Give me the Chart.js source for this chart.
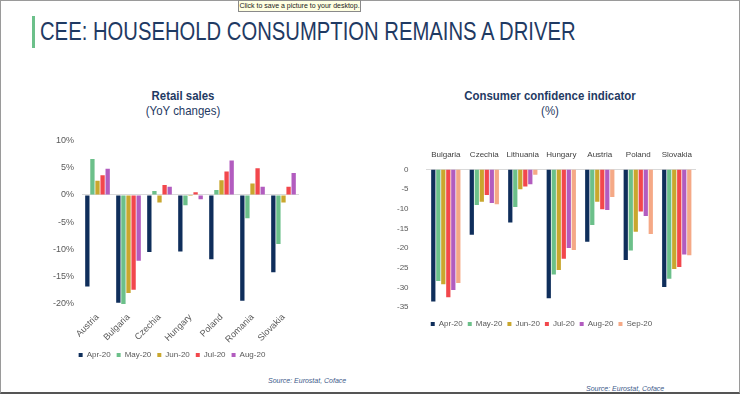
<!DOCTYPE html>
<html>
<head>
<meta charset="utf-8">
<script src="https://cdn.jsdelivr.net/npm/chart.js@4/dist/chart.umd.min.js"></script>
<style>
  body { margin: 0; background: #fff; }
  #page { position: relative; width: 740px; height: 397px; overflow: hidden; font-family: "Liberation Sans", Arial, sans-serif; }
  .frame { position: absolute; left: 0; top: 0; width: 738px; height: 391px; border: 1px solid #9a9a9a; border-bottom: 2px solid #555; }
  .tip { position: absolute; left: 238px; top: 0; width: 121px; height: 10px; background: #ffffe1; border: 1px solid #8a8a8a; font: 7px "Liberation Sans", Arial, sans-serif; line-height: 10px; text-align: center; color: #222; }
  .bar { position: absolute; left: 32px; top: 16px; width: 3px; height: 32px; background: #6cc08a; }
  .title { position: absolute; left: 40px; top: 17px; font-size: 25px; color: #1f3a63; white-space: nowrap; transform: scaleX(0.81); transform-origin: left top; }
  .sub { position: absolute; text-align: center; color: #1f3a63; font-size: 13px; line-height: 15px; transform: scaleX(0.88); }
  .sub b { font-weight: bold; }
  .src { position: absolute; font: italic 7px "Liberation Sans", Arial, sans-serif; color: #3d5a8a; }
  canvas { position: absolute; }
</style>
</head>
<body>
<div id="page">
  <div class="frame"></div>
  <div class="bar"></div>
  <div class="title">CEE: HOUSEHOLD CONSUMPTION REMAINS A DRIVER</div>
  <div class="tip">Click to save a picture to your desktop.</div>
  <div class="sub" style="left:103px; top:88px; width:160px;"><b>Retail sales</b><br>(YoY changes)</div>
  <div class="sub" style="left:450px; top:88px; width:200px;"><b>Consumer confidence indicator</b><br>(%)</div>
  <div class="src" style="left:268px; top:377px;">Source: Eurostat, Coface</div>
  <div class="src" style="left:586px; top:385px;">Source: Eurostat, Coface</div>
  <canvas id="retail" width="262" height="242" style="left:45px; top:127px; width:262px; height:242px;"></canvas>
  <canvas id="conf" width="309" height="190" style="left:387px; top:148px; width:309px; height:190px;"></canvas>
</div>
<script>
// Retail sales, YoY %
const retailCountries = ['Austria', 'Bulgaria', 'Czechia', 'Hungary', 'Poland', 'Romania', 'Slovakia']
const retailMonths = ['Apr-20', 'May-20', 'Jun-20', 'Jul-20', 'Aug-20']
const retailApr = [-16.8, -19.8, -10.5, -10.4, -11.8, -19.4, -14.2]
const retailMay = [6.6, -20.0, 0.7, -1.9, 0.9, -4.3, -9.0]
const retailJun = [2.6, -18.0, -1.4, -0.2, 2.7, 2.1, -1.4]
const retailJul = [3.6, -17.4, 1.8, 0.5, 4.3, 4.9, 1.5]
const retailAug = [4.8, -12.1, 1.5, -0.8, 6.3, 1.5, 4.0]

// Consumer confidence indicator
const confCountries = ['Bulgaria', 'Czechia', 'Lithuania', 'Hungary', 'Austria', 'Poland', 'Slovakia']
const confMonths = ['Apr-20', 'May-20', 'Jun-20', 'Jul-20', 'Aug-20', 'Sep-20']
const confApr = [-33.6, -16.6, -13.5, -32.8, -18.4, -23.0, -29.9]
const confMay = [-28.4, -9.0, -9.5, -26.7, -14.1, -20.6, -27.8]
const confJun = [-29.2, -8.2, -5.0, -25.6, -8.2, -15.8, -25.3]
const confJul = [-32.5, -6.5, -4.3, -22.7, -10.1, -10.7, -24.8]
const confAug = [-30.7, -8.5, -3.7, -20.0, -10.3, -11.8, -21.6]
const confSep = [-28.9, -8.8, -1.3, -20.5, -7.0, -16.4, -21.8]

const monthColors = ['#0f2e5b', '#6cc08a', '#c9a72e', '#f2474c', '#b25cbf', '#f5a986']
const fam = 'Liberation Sans, Arial, sans-serif'
const tickColor = '#595959'

const makeSets = (months, series) => months.map((m, i) => ({
    label: m,
    data: series[i],
    backgroundColor: monthColors[i],
    borderWidth: 0,
}))

const legendOpts = (pad) => ({
    position: 'bottom',
    labels: {
        usePointStyle: true,
        pointStyle: 'rect',
        boxWidth: 4,
        boxHeight: 4,
        padding: pad,
        color: '#595959',
        font: { family: fam, size: 8 },
    },
})

new Chart(document.getElementById('retail'), {
    type: 'bar',
    data: {
        labels: retailCountries,
        datasets: makeSets(retailMonths, [retailApr, retailMay, retailJun, retailJul, retailAug]),
    },
    options: {
        responsive: false,
        animation: false,
        categoryPercentage: 0.82,
        barPercentage: 0.85,
        layout: { padding: { left: 0, right: 8, top: 6, bottom: 0 } },
        plugins: { legend: legendOpts(6), tooltip: { enabled: false } },
        scales: {
            x: {
                grid: { display: false },
                border: { display: false },
                ticks: { minRotation: 45, maxRotation: 45, color: tickColor, font: { family: fam, size: 9 }, padding: 0 },
            },
            y: {
                min: -20,
                max: 10,
                border: { display: false },
                grid: {
                    color: (c) => c.tick && c.tick.value === 0 ? '#d9d9d9' : 'transparent',
                    drawTicks: false,
                },
                ticks: { stepSize: 5, color: tickColor, font: { family: fam, size: 9 }, padding: 8, callback: (v) => v + '%' },
            },
        },
    },
})

new Chart(document.getElementById('conf'), {
    type: 'bar',
    data: {
        labels: confCountries,
        datasets: makeSets(confMonths, [confApr, confMay, confJun, confJul, confAug, confSep]),
    },
    options: {
        responsive: false,
        animation: false,
        categoryPercentage: 0.78,
        barPercentage: 0.85,
        layout: { padding: { left: 0, right: 0, top: 0, bottom: 0 } },
        plugins: { legend: legendOpts(5), tooltip: { enabled: false } },
        scales: {
            x: {
                position: 'top',
                grid: { display: false },
                border: { display: true, color: '#d9d9d9' },
                ticks: { maxRotation: 0, color: '#404040', font: { family: fam, size: 8 }, padding: 2 },
            },
            // empty bottom axis, only keeps a gap above the legend
            gap: {
                type: 'category',
                position: 'bottom',
                grid: { display: false },
                border: { display: false },
                ticks: { display: false },
                afterFit: (s) => { s.height = 8 },
            },
            y: {
                min: -35,
                max: 0,
                border: { display: false },
                grid: { display: false },
                ticks: { stepSize: 5, color: tickColor, font: { family: fam, size: 8 }, padding: 10 },
            },
        },
    },
})
</script>
</body>
</html>
